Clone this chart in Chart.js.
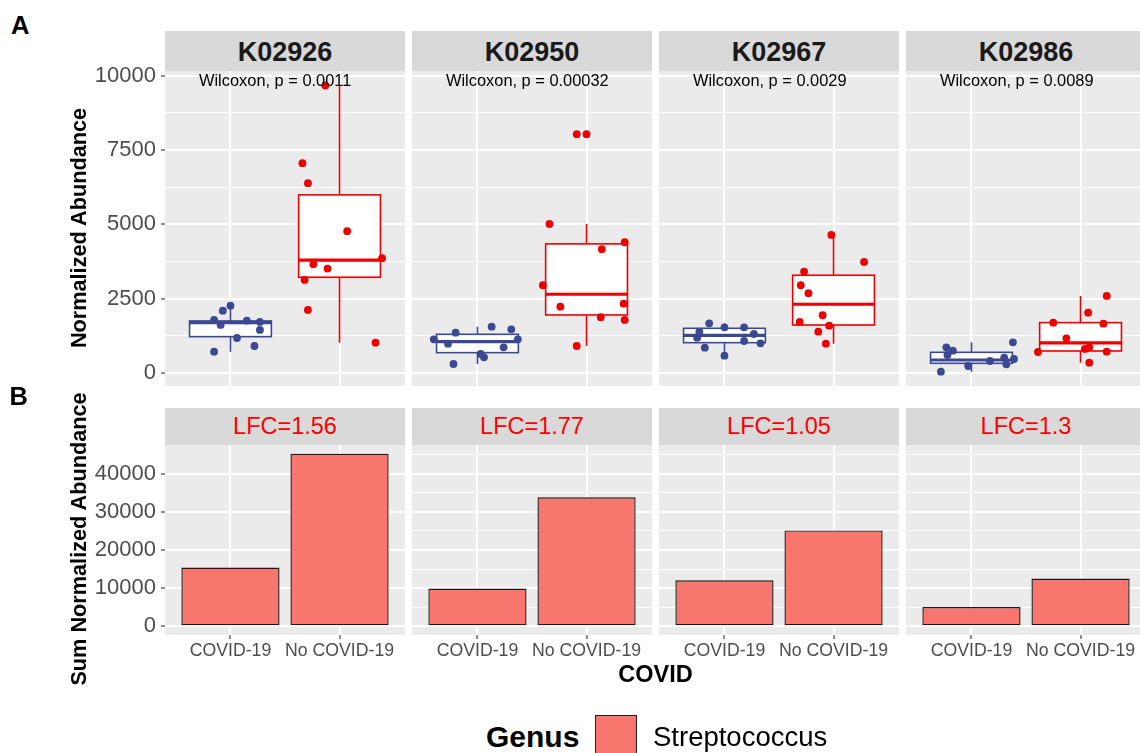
<!DOCTYPE html>
<html><head><meta charset="utf-8">
<script src="https://cdn.jsdelivr.net/npm/chart.js@4.4.1/dist/chart.umd.min.js"></script>
<style>
html,body{margin:0;padding:0;background:#fff;width:1140px;height:753px;overflow:hidden;font-family:"Liberation Sans",Arial,sans-serif;}
#root{position:relative;width:1140px;height:753px;overflow:hidden;}
.cv{position:absolute;}
.strip{position:absolute;background:#d9d9d9;}
.txt{position:absolute;white-space:nowrap;line-height:1;font-family:"Liberation Sans",Arial,sans-serif;}
canvas{display:block}
</style></head><body><div id="root"></div>
<script>
// ---------- DATA ----------
const genes = ['K02926', 'K02950', 'K02967', 'K02986'];
const pValues = ['0.0011', '0.00032', '0.0029', '0.0089'];
const lfcValues = ['1.56', '1.77', '1.05', '1.3'];
const groups = ['COVID-19', 'No COVID-19'];
const genusName = 'Streptococcus';

const yTicksTop = [0, 2500, 5000, 7500, 10000];
const yMinorTop = [1250, 3750, 6250, 8750];
const yTicksBottom = [0, 10000, 20000, 30000, 40000];
const yMinorBottom = [5000, 15000, 25000, 35000, 45000];

// jittered points (x in group units: 1 = COVID-19, 2 = No COVID-19)
const covidX_K02926 = [0.85, 0.93, 1.00, 0.85, 0.91, 1.15, 1.27, 1.27, 1.06, 1.22];
const covidY_K02926 = [717, 2098, 2266, 1785, 1616, 1762, 1717, 1448, 1178, 909];
const noCovidX_K02926 = [1.87, 1.66, 1.71, 2.07, 2.39, 1.76, 1.89, 1.68, 1.71, 2.33];
const noCovidY_K02926 = [9673, 7060, 6387, 4771, 3862, 3660, 3512, 3131, 2121, 1020];

const covidX_K02950 = [0.60, 0.80, 0.73, 1.13, 1.31, 1.37, 1.24, 1.03, 1.06, 0.78];
const covidY_K02950 = [1134, 1358, 987, 1560, 1470, 1134, 864, 640, 528, 303];
const noCovidX_K02950 = [1.91, 1.66, 2.35, 2.14, 1.60, 1.76, 2.34, 2.13, 2.35, 1.91];
const noCovidY_K02950 = [8036, 5017, 4400, 4164, 2952, 2233, 2334, 1875, 1785, 909];

const covidX_K02967 = [0.86, 1.00, 1.18, 0.77, 0.75, 1.27, 1.18, 1.33, 0.82, 1.00];
const covidY_K02967 = [1673, 1538, 1538, 1392, 1189, 1313, 1077, 1000, 852, 583];
const noCovidX_K02967 = [1.98, 2.28, 1.73, 1.70, 1.77, 1.90, 1.69, 1.96, 1.86, 1.93];
const noCovidY_K02967 = [4646, 3737, 3411, 2952, 2683, 1943, 1717, 1593, 1392, 987];

const covidX_K02986 = [0.77, 0.83, 0.78, 1.38, 1.30, 1.17, 1.39, 1.32, 0.97, 0.72];
const covidY_K02986 = [864, 752, 606, 1033, 516, 404, 471, 292, 236, 45];
const noCovidX_K02986 = [2.24, 2.07, 1.75, 2.21, 1.87, 2.08, 1.61, 2.24, 2.08, 2.04];
const noCovidY_K02986 = [2593, 2031, 1694, 1660, 1168, 864, 707, 717, 347, 810];

// boxplot outliers (drawn at group centre)
const covidOutliers = [[], [], [], []];
const noCovidOutliers = [[], [8036], [], []];

// box statistics: [lower whisker, Q1, median, Q3, upper whisker]
const covidBox_K02926 = [717, 1223, 1694, 1751, 2266];
const covidBox_K02950 = [303, 685, 1055, 1302, 1560];
const covidBox_K02967 = [583, 1021, 1269, 1504, 1673];
const covidBox_K02986 = [45, 326, 438, 696, 1033];
const noCovidBox_K02926 = [1020, 3222, 3795, 5993, 9673];
const noCovidBox_K02950 = [909, 1953, 2650, 4343, 5017];
const noCovidBox_K02967 = [987, 1616, 2313, 3289, 4646];
const noCovidBox_K02986 = [347, 741, 1016, 1694, 2593];

// summed abundance (panel B)
const covidSum = [15410, 9900, 12080, 5070];
const noCovidSum = [45250, 33800, 25130, 12530];

// ---------- STYLE / LAYOUT ----------
const BLUE = '#3B4992', RED = '#EE0000', BARFILL = '#F8766D';
const FONT = '"Liberation Sans", Arial, sans-serif';
const panelLeft = [165, 412, 659, 906];
const PW = 240;
const AXW = 165;
const PAD = 30;
const TOP_Y0 = 71, TOP_H = 315;
const BOT_Y0 = 445, BOT_H = 190, XAXH = 32;

const panels = [
  {cx: covidX_K02926, cy: covidY_K02926, nx: noCovidX_K02926, ny: noCovidY_K02926, cb: covidBox_K02926, nb: noCovidBox_K02926},
  {cx: covidX_K02950, cy: covidY_K02950, nx: noCovidX_K02950, ny: noCovidY_K02950, cb: covidBox_K02950, nb: noCovidBox_K02950},
  {cx: covidX_K02967, cy: covidY_K02967, nx: noCovidX_K02967, ny: noCovidY_K02967, cb: covidBox_K02967, nb: noCovidBox_K02967},
  {cx: covidX_K02986, cy: covidY_K02986, nx: noCovidX_K02986, ny: noCovidY_K02986, cb: covidBox_K02986, nb: noCovidBox_K02986}
];

const root = document.getElementById('root');

function addText(t, x, y, o) {
  const d = document.createElement('div');
  d.className = 'txt';
  d.textContent = t;
  d.style.left = x + 'px';
  d.style.top = y + 'px';
  d.style.fontSize = o.size + 'px';
  d.style.fontWeight = o.weight || 'normal';
  d.style.color = o.color || '#000';
  let tr = o.anchor === 'left' ? 'translate(0,-50%)' : 'translate(-50%,-50%)';
  if (o.rotate) tr += ' rotate(' + o.rotate + 'deg)';
  d.style.transform = tr;
  root.appendChild(d);
  return d;
}
function addDiv(cls, x, y, w, h) {
  const d = document.createElement('div');
  d.className = cls;
  Object.assign(d.style, {left: x + 'px', top: y + 'px', width: w + 'px', height: h + 'px'});
  root.appendChild(d);
  return d;
}
function addCanvas(x, y, w, h) {
  const wrap = addDiv('cv', x, y, w, h);
  const c = document.createElement('canvas');
  c.width = w; c.height = h;
  c.style.width = w + 'px'; c.style.height = h + 'px';
  wrap.appendChild(c);
  return c;
}

const panelBg = {
  id: 'panelBg',
  beforeDraw(chart) {
    const {ctx, chartArea: a} = chart;
    ctx.save();
    ctx.fillStyle = '#EBEBEB';
    ctx.fillRect(a.left, a.top, a.right - a.left, a.bottom - a.top);
    ctx.restore();
  }
};

function makeBoxPlugin(boxes) {
  return {
    id: 'boxPlot',
    beforeDatasetsDraw(chart) {
      const {ctx} = chart;
      const xs = chart.scales.x, ys = chart.scales.y;
      const half = 0.375;
      boxes.forEach(b => {
        const [lo, q1, med, q3, hi] = b.stats;
        const xl = xs.getPixelForValue(b.x - half), xr = xs.getPixelForValue(b.x + half), xc = xs.getPixelForValue(b.x);
        const py = v => ys.getPixelForValue(v);
        ctx.save();
        ctx.strokeStyle = b.color;
        ctx.lineWidth = 1.6;
        ctx.beginPath();
        ctx.moveTo(xc, py(hi)); ctx.lineTo(xc, py(q3));
        ctx.moveTo(xc, py(q1)); ctx.lineTo(xc, py(lo));
        ctx.stroke();
        ctx.fillStyle = '#ffffff';
        ctx.fillRect(xl, py(q3), xr - xl, py(q1) - py(q3));
        ctx.strokeRect(xl, py(q3), xr - xl, py(q1) - py(q3));
        ctx.lineWidth = 3.2;
        ctx.beginPath();
        ctx.moveTo(xl, py(med)); ctx.lineTo(xr, py(med));
        ctx.stroke();
        ctx.restore();
      });
    }
  };
}

function yScale(isLeft, min, max, majors, minors) {
  const all = majors.concat(minors).sort((a, b) => a - b);
  return {
    type: 'linear', min: min, max: max,
    afterBuildTicks: s => { s.ticks = all.map(v => ({value: v})); },
    afterFit: s => { s.width = isLeft ? AXW : 0; },
    ticks: {
      display: isLeft, color: '#4d4d4d', padding: 5,
      font: {family: FONT, size: 22},
      callback: v => majors.includes(v) ? String(v) : ''
    },
    grid: {
      color: '#ffffff',
      lineWidth: c => (c.tick && majors.includes(c.tick.value)) ? 2 : 1,
      drawTicks: isLeft, tickLength: 4, tickWidth: 1.1,
      tickColor: c => (c.tick && majors.includes(c.tick.value)) ? '#333333' : 'rgba(0,0,0,0)'
    },
    border: {display: false}
  };
}

function baseOpts(padBottom) {
  return {
    responsive: false, animation: false, events: [],
    layout: {padding: {top: PAD, bottom: padBottom, left: 0, right: 0}, autoPadding: false},
    plugins: {legend: {display: false}, tooltip: {enabled: false}, title: {display: false}}
  };
}

// ---------- PANEL A ----------
panels.forEach((p, i) => {
  const isLeft = i === 0;
  const x0 = isLeft ? 0 : panelLeft[i];
  const w = isLeft ? AXW + PW : PW;
  const cv = addCanvas(x0, TOP_Y0 - PAD, w, TOP_H + 2 * PAD);
  const covidPts = p.cx.map((x, k) => ({x: x, y: p.cy[k]}));
  const noCovidPts = p.nx.map((x, k) => ({x: x, y: p.ny[k]}));
  const outC = covidOutliers[i].map(v => ({x: 1, y: v}));
  const outN = noCovidOutliers[i].map(v => ({x: 2, y: v}));
  const pt = c => ({backgroundColor: c, borderWidth: 0, pointRadius: 3.9, pointHoverRadius: 3.9});
  new Chart(cv, {
    type: 'scatter',
    data: {datasets: [
      Object.assign({label: groups[0], data: covidPts}, pt(BLUE)),
      Object.assign({label: groups[1], data: noCovidPts}, pt(RED)),
      Object.assign({label: 'out1', data: outC}, pt(BLUE)),
      Object.assign({label: 'out2', data: outN}, pt(RED))
    ]},
    options: Object.assign(baseOpts(PAD), {
      scales: {
        x: {
          type: 'linear', min: 0.4, max: 2.6,
          afterBuildTicks: s => { s.ticks = [{value: 1}, {value: 2}]; },
          afterFit: s => { s.height = 0; },
          ticks: {display: false},
          grid: {color: '#ffffff', lineWidth: 2, drawTicks: false, offset: false},
          border: {display: false}
        },
        y: yScale(isLeft, -437, 10160, yTicksTop, yMinorTop)
      }
    }),
    plugins: [panelBg, makeBoxPlugin([
      {x: 1, stats: p.cb, color: BLUE},
      {x: 2, stats: p.nb, color: RED}
    ])]
  });
  addDiv('strip', panelLeft[i], 31, PW, 40);
  addText(genes[i], panelLeft[i] + PW / 2, 52, {size: 27, weight: 'bold', color: '#1a1a1a'});
  addText('Wilcoxon, p = ' + pValues[i], panelLeft[i] + 34, 80, {size: 16.4, anchor: 'left', color: '#000'});
});

// ---------- PANEL B ----------
panels.forEach((p, i) => {
  const isLeft = i === 0;
  const x0 = isLeft ? 0 : panelLeft[i];
  const w = isLeft ? AXW + PW : PW;
  const cv = addCanvas(x0, BOT_Y0 - PAD, w, BOT_H + XAXH + PAD);
  new Chart(cv, {
    type: 'bar',
    data: {datasets: [{
      label: genusName,
      data: [{x: 1, y: covidSum[i]}, {x: 2, y: noCovidSum[i]}],
      backgroundColor: BARFILL, borderColor: '#1a1a1a', borderWidth: 1.4, borderSkipped: false,
      barPercentage: 0.9, categoryPercentage: 1.0
    }]},
    options: Object.assign(baseOpts(0), {
      scales: {
        x: {
          type: 'linear', min: 0.4, max: 2.6, offset: false,
          afterBuildTicks: s => { s.ticks = [{value: 1}, {value: 2}]; },
          afterFit: s => { s.height = XAXH; },
          ticks: {display: true, autoSkip: false, maxRotation: 0, minRotation: 0, padding: 1,
            color: '#4d4d4d', font: {family: FONT, size: 17.7},
            callback: v => groups[Math.round(v) - 1]},
          grid: {color: '#ffffff', lineWidth: 2, offset: false, drawTicks: true, tickLength: 4, tickColor: '#333333', tickWidth: 1.1},
          border: {display: false}
        },
        y: yScale(isLeft, -2262, 47512, yTicksBottom, yMinorBottom)
      }
    }),
    plugins: [panelBg]
  });
  addDiv('strip', panelLeft[i], 408, PW, 37);
  addText('LFC=' + lfcValues[i], panelLeft[i] + PW / 2, 426.7, {size: 23.5, color: '#FF0000'});
});

// ---------- TITLES / LEGEND ----------
addText('A', 11, 25.8, {size: 25.5, weight: 'bold', anchor: 'left'});
addText('B', 9.5, 396.7, {size: 25.5, weight: 'bold', anchor: 'left'});
addText('Normalized Abundance', 78.6, 228, {size: 21.7, weight: 'bold', rotate: -90});
addText('Sum Normalized Abundance', 78.6, 539, {size: 21.7, weight: 'bold', rotate: -90});
addText('COVID', 655.5, 675, {size: 23.5, weight: 'bold'});
addText('Genus', 486, 736.5, {size: 30, weight: 'bold', anchor: 'left'});
const key = addDiv('cv', 595, 715, 42, 42);
Object.assign(key.style, {background: BARFILL, border: '1.5px solid #222', boxSizing: 'border-box'});
addText(genusName, 653, 736.5, {size: 27.5, anchor: 'left'});
</script></body></html>
